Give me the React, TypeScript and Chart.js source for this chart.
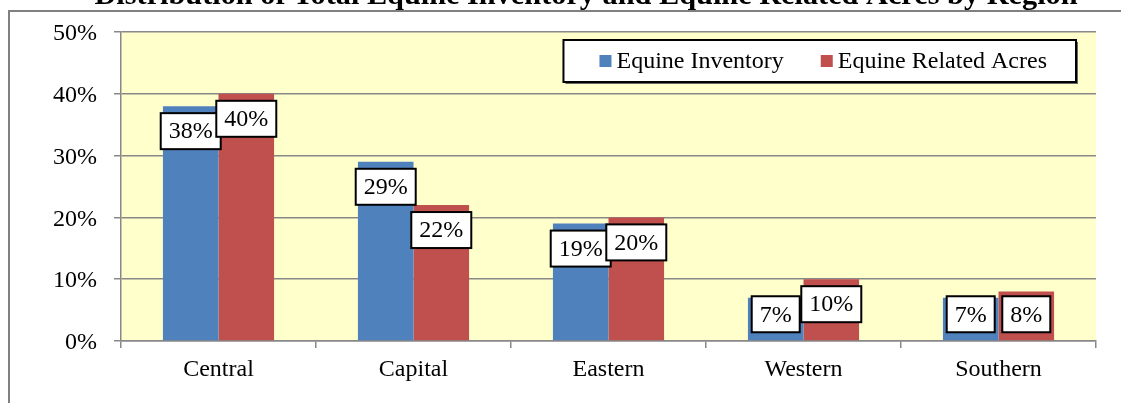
import React, { useEffect, useRef } from "react";
import { Chart, registerables } from "chart.js";

Chart.register(...registerables);

const categories = ["Central", "Capital", "Eastern", "Western", "Southern"];
const inventory = [38, 29, 19, 7, 7];
const acres = [40, 22, 20, 10, 8];
const seriesNames = ["Equine Inventory", "Equine Related Acres"];
const seriesColors = ["#4F81BD", "#C0504D"];
const yMax = 50;
const yStep = 10;
const titleText = "Distribution of Total Equine Inventory and Equine Related Acres by Region";

const SERIF = "'Liberation Serif', 'Times New Roman', serif";
const FS = 24;

const framePlugin = {
  id: "frame",
  beforeDraw(chart: any) {
    const { ctx, chartArea, width, height } = chart;
    ctx.save();
    ctx.fillStyle = "#ffffff";
    ctx.fillRect(0, 0, width, height);
    ctx.strokeStyle = "#808080";
    ctx.lineWidth = 2;
    ctx.beginPath();
    ctx.moveTo(width, 11);
    ctx.lineTo(9, 11);
    ctx.lineTo(9, height);
    ctx.stroke();
    ctx.fillStyle = "#FFFFCC";
    ctx.fillRect(chartArea.left, chartArea.top, chartArea.right - chartArea.left, chartArea.bottom - chartArea.top);
    ctx.restore();
  },
  afterDraw(chart: any) {
    const { ctx } = chart;
    ctx.save();
    ctx.font = `bold 30.3px ${SERIF}`;
    ctx.fillStyle = "#000";
    ctx.textAlign = "center";
    ctx.textBaseline = "alphabetic";
    ctx.fillText(titleText, 586, 4);
    ctx.restore();
  },
};

const labelPlugin = {
  id: "valueLabels",
  afterDatasetsDraw(chart: any) {
    const { ctx } = chart;
    ctx.save();
    ctx.font = `${FS}px ${SERIF}`;
    ctx.textAlign = "center";
    ctx.textBaseline = "middle";
    chart.data.datasets.forEach((ds: any, di: number) => {
      const meta = chart.getDatasetMeta(di);
      meta.data.forEach((bar: any, i: number) => {
        const txt = ds.data[i] + "%";
        const tw = ctx.measureText(txt).width;
        const w = tw + 16;
        const h = 36;
        const cy = Math.min(bar.y + 25, bar.base - 26);
        const cx = bar.x;
        ctx.fillStyle = "#ffffff";
        ctx.fillRect(cx - w / 2, cy - h / 2, w, h);
        ctx.strokeStyle = "#000000";
        ctx.lineWidth = 2;
        ctx.strokeRect(cx - w / 2, cy - h / 2, w, h);
        ctx.fillStyle = "#000000";
        ctx.fillText(txt, cx, cy + 1);
      });
    });
    ctx.restore();
  },
};

const legendPlugin = {
  id: "boxLegend",
  afterDraw(chart: any) {
    const { ctx, chartArea } = chart;
    ctx.save();
    ctx.font = `${FS}px ${SERIF}`;
    const sq = 12;
    const gapSqText = 5;
    const gapItems = 37;
    const padL = 36;
    const padR = 29;
    const items = chart.data.datasets.map((ds: any) => ({
      label: ds.label,
      color: ds.backgroundColor,
      w: ctx.measureText(ds.label).width,
    }));
    let contentW = 0;
    items.forEach((it: any, i: number) => {
      contentW += sq + gapSqText + it.w + (i < items.length - 1 ? gapItems : 0);
    });
    const boxW = padL + contentW + padR;
    const boxH = 42;
    const right = chartArea.right - 20;
    const left = right - boxW;
    const top = chartArea.top + 8;
    ctx.fillStyle = "#666";
    ctx.fillRect(left + 2, top + 2, boxW, boxH);
    ctx.fillStyle = "#fff";
    ctx.fillRect(left, top, boxW, boxH);
    ctx.strokeStyle = "#000";
    ctx.lineWidth = 2;
    ctx.strokeRect(left, top, boxW, boxH);
    const cy = top + boxH / 2;
    let x = left + padL;
    ctx.textBaseline = "middle";
    ctx.textAlign = "left";
    items.forEach((it: any) => {
      ctx.fillStyle = it.color;
      ctx.fillRect(x, cy - sq / 2, sq, sq);
      x += sq + gapSqText;
      ctx.fillStyle = "#000";
      ctx.fillText(it.label, x, cy + 1);
      x += it.w + gapItems;
    });
    ctx.restore();
  },
};

export default function App() {
  const ref = useRef<HTMLCanvasElement | null>(null);
  useEffect(() => {
    if (!ref.current) return;
    const chart = new Chart(ref.current, {
      type: "bar",
      data: {
        labels: categories,
        datasets: [
          { label: seriesNames[0], data: inventory, backgroundColor: seriesColors[0], categoryPercentage: 0.57, barPercentage: 1.0 },
          { label: seriesNames[1], data: acres, backgroundColor: seriesColors[1], categoryPercentage: 0.57, barPercentage: 1.0 },
        ],
      },
      options: {
        animation: false,
        responsive: true,
        maintainAspectRatio: false,
        devicePixelRatio: 1,
        layout: { padding: { left: 0, top: 32, right: 25, bottom: 0 } },
        plugins: {
          legend: { display: false },
          title: { display: false },
          tooltip: { enabled: false },
        },
        scales: {
          x: {
            grid: { display: true, drawOnChartArea: false, drawTicks: true, tickLength: 7, color: "#888", lineWidth: 1.5, offset: true },
            border: { display: true, color: "#888", width: 1.5 },
            ticks: { color: "#000", font: { family: SERIF, size: FS }, padding: 7, maxRotation: 0 },
            afterFit(scale: any) { scale.height = 62; },
          },
          y: {
            min: 0,
            max: yMax,
            ticks: { stepSize: yStep, color: "#000", font: { family: SERIF, size: FS }, padding: 17, labelOffset: 2, callback: (v: any) => v + "%" },
            grid: { color: "#888", lineWidth: 1.5, tickLength: 7 },
            border: { display: true, color: "#888", width: 1.5 },
            afterFit(scale: any) { scale.width = 121; },
          },
        },
      },
      plugins: [framePlugin, labelPlugin, legendPlugin],
    });
    return () => chart.destroy();
  }, []);
  return (
    <div style={{ position: "absolute", left: 0, top: 0, width: 1121, height: 403 }}>
      <canvas ref={ref} />
    </div>
  );
}
